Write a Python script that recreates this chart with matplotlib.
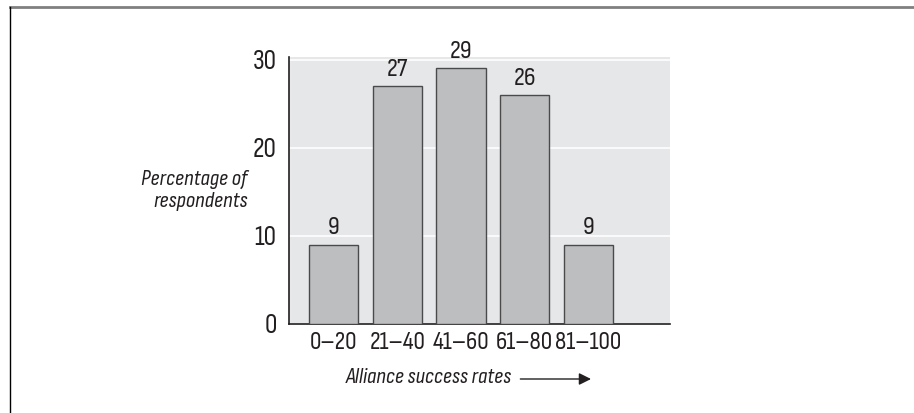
import matplotlib.pyplot as plt
from matplotlib.lines import Line2D

categories = ["0\u201320", "21\u201340", "41\u201360", "61\u201380", "81\u2013100"]
percentages = [9, 27, 29, 26, 9]
y_ticks = [0, 10, 20, 30]

plt.rcParams["font.family"] = ["Sofia Sans Condensed", "Archivo Narrow",
                               "TeX Gyre Heros Cn", "DejaVu Sans"]

fig = plt.figure(figsize=(9.14, 4.13), dpi=100)
ax = fig.add_axes([0.3162, 0.2155, 0.4168, 0.6465])

x = range(len(categories))
ax.set_facecolor("#e6e7e8")
bars = ax.bar(x, percentages, width=0.77, color="#bdbec0",
              edgecolor="#4a4a4a", linewidth=1.0, zorder=3)
for b, v in zip(bars, percentages):
    ax.text(b.get_x() + b.get_width() / 2, v + 0.6, str(v),
            ha="center", va="bottom", fontsize=19, color="#231f20")

ax.set_xlim(-0.7, 5.28)
ax.set_ylim(0, 30.3)
ax.set_yticks(y_ticks)
ax.set_yticklabels([str(t) for t in y_ticks], fontsize=20, color="#231f20")
ax.set_xticks(list(x))
ax.set_xticklabels(categories, fontsize=18.5, color="#231f20")
ax.tick_params(length=0, axis="y", pad=9)
ax.tick_params(length=0, axis="x", pad=5)
ax.yaxis.grid(True, color="white", linewidth=1.2, zorder=0)
ax.set_axisbelow(True)
for side in ("top", "right"):
    ax.spines[side].set_visible(False)
for side in ("left", "bottom"):
    ax.spines[side].set_color("#231f20")
    ax.spines[side].set_linewidth(1.2)

ax.text(-0.108, 0.50, "Percentage of\nrespondents", transform=ax.transAxes,
        ha="right", va="center", fontsize=16.5, style="italic",
        linespacing=1.15, color="#231f20")

ax.text(0.585, -0.199, "Alliance success rates", transform=ax.transAxes,
        ha="right", va="center", fontsize=16.5, style="italic", color="#231f20")
ax.annotate("", xy=(0.8, -0.206), xytext=(0.6, -0.206),
            xycoords="axes fraction", textcoords="axes fraction",
            arrowprops=dict(arrowstyle="-|>", color="#231f20", lw=1.0,
                            mutation_scale=18))

# frame lines around the figure
fig.add_artist(Line2D([10 / 914, 1], [1 - 7 / 413, 1 - 7 / 413],
                      transform=fig.transFigure, color="#808080", lw=2))
fig.add_artist(Line2D([10 / 914, 10 / 914], [0, 1 - 7 / 413],
                      transform=fig.transFigure, color="black", lw=1))

fig.savefig("out.png", dpi=100)
